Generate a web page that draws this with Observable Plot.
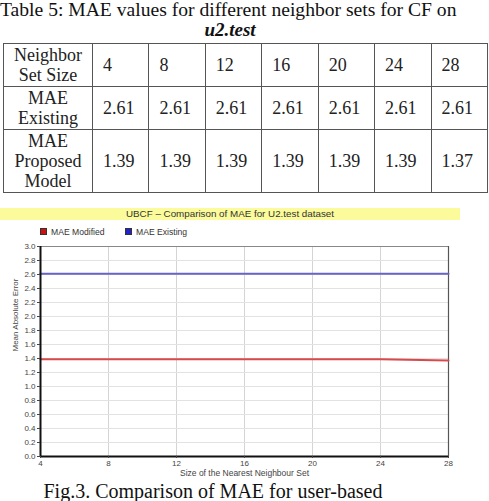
<!DOCTYPE html>
<html><head><meta charset="utf-8">
<script src="https://cdn.jsdelivr.net/npm/d3@7"></script>
<script src="https://cdn.jsdelivr.net/npm/@observablehq/plot@0.6"></script>
<style>
body{margin:0;width:489px;height:501px;position:relative;overflow:hidden;background:#fff;font-family:"Liberation Serif","Times New Roman",serif;color:#111}
.abs{position:absolute}
#t1{left:0px;top:0px;font-size:19.6px;line-height:19px;white-space:nowrap}
#t2{left:0;width:460px;text-align:center;top:19px;font-size:19px;font-weight:bold;font-style:italic}
#tbl{position:absolute;left:3px;top:43px;border-collapse:collapse;font-size:18px;color:#222;width:485px}
#tbl td{border:1.5px solid #555;padding:0 0 0 10px;line-height:20px;text-align:left}
#tbl td.h{text-align:center;padding:0;width:88px}
#bar{left:0;top:208px;width:460px;height:12px;background:#fbfb9c;font-family:"Liberation Sans",Arial,sans-serif;font-size:9.8px;line-height:12px;color:#333;text-align:center}
.leg{top:228px;font-family:"Liberation Sans",Arial,sans-serif;font-size:8.6px;color:#333;line-height:8px}
.sw{display:inline-block;width:5px;height:5px;margin-right:4px;vertical-align:0px}
#chart{left:0;top:240px}
#cap{left:0;width:426px;text-align:center;top:480px;font-size:20px;white-space:nowrap}
</style></head>
<body>
<div id="t1" class="abs">Table 5: MAE values for different neighbor sets for CF on</div>
<div id="t2" class="abs">u2.test</div>
<table id="tbl"></table>
<div id="bar" class="abs">UBCF – Comparison of MAE for U2.test dataset</div>
<div id="leg"></div>
<div id="chart" class="abs"></div>
<div id="cap" class="abs">Fig.3. Comparison of MAE for user-based</div>
<script>
const neighborSizes = [4, 8, 12, 16, 20, 24, 28];
const maeExisting = [2.61, 2.61, 2.61, 2.61, 2.61, 2.61, 2.61];
const maeProposed = [1.39, 1.39, 1.39, 1.39, 1.39, 1.39, 1.37];
const rowLabels = [["Neighbor", "Set Size"], ["MAE", "Existing"], ["MAE", "Proposed", "Model"]];
const seriesNames = ["MAE Modified", "MAE Existing"];
const seriesColors = ["#d9484a", "#6a63c6"];
const swatchColors = ["#cc1111", "#2222cc"];
const yTicks = d3.range(0, 31, 2).map(v => v / 10);
const chartTitle = "UBCF – Comparison of MAE for U2.test dataset";
const xLabel = "Size of the Nearest Neighbour Set";
const yLabel = "Mean Absolute Error";

// table
const rowsData = [neighborSizes.map(String), maeExisting.map(v => v.toFixed(2)), maeProposed.map(v => v.toFixed(2))];
const rowHeights = [43, 43, 63];
const tbl = d3.select("#tbl");
rowsData.forEach((r, i) => {
  const tr = tbl.append("tr").style("height", rowHeights[i] + "px");
  tr.append("td").attr("class", "h").html(rowLabels[i].join("<br>"));
  r.forEach(v => tr.append("td").text(v));
});

// legend
const legX = [40, 125];
seriesNames.forEach((n, i) => {
  const d = d3.select("#leg").append("div").attr("class", "abs leg").style("left", legX[i] + "px");
  d.append("span").attr("class", "sw").style("background", swatchColors[i]).style("border", "0.5px solid #333");
  d.append("span").text(n);
});

const data = [
  ...neighborSizes.map((x, i) => ({x, y: maeProposed[i], s: seriesNames[0]})),
  ...neighborSizes.map((x, i) => ({x, y: maeExisting[i], s: seriesNames[1]}))
];

const plot = Plot.plot({
  width: 489, height: 245,
  marginTop: 6, marginBottom: 29, marginLeft: 40, marginRight: 41,
  style: {fontFamily: "'Liberation Sans', Arial, sans-serif", fontSize: "8px", color: "#444", background: "transparent"},
  x: {domain: [4, 28]},
  y: {domain: [0, 3]},
  color: {domain: seriesNames, range: seriesColors},
  marks: [
    Plot.gridX(neighborSizes, {stroke: "#d4d4d4", strokeOpacity: 1}),
    Plot.gridY(yTicks, {stroke: "#e2e2e2", strokeOpacity: 1}),
    Plot.ruleY([3], {stroke: "#888", strokeWidth: 1.2}),
    Plot.ruleX([28], {stroke: "#555", strokeWidth: 1.2}),
    Plot.line(data, {x: "x", y: "y", z: "s", stroke: "s", strokeWidth: 2}),
    Plot.ruleY([0], {stroke: "#111", strokeWidth: 2}),
    Plot.ruleX([4], {stroke: "#111", strokeWidth: 2}),
    Plot.axisY(yTicks, {tickFormat: d3.format(".1f"), tickSize: 3, tickPadding: 2, label: null, fill: "#444"}),
    Plot.axisX(neighborSizes, {tickSize: 2, tickPadding: 2, label: null, fill: "#444"}),
    Plot.text([xLabel], {frameAnchor: "bottom", dy: 19, fill: "#444", fontSize: 8.5}),
    Plot.text([yLabel], {frameAnchor: "left", dx: -25, rotate: -90, fill: "#444", fontSize: 8})
  ]
});
document.getElementById("chart").appendChild(plot);
</script>
</body></html>
